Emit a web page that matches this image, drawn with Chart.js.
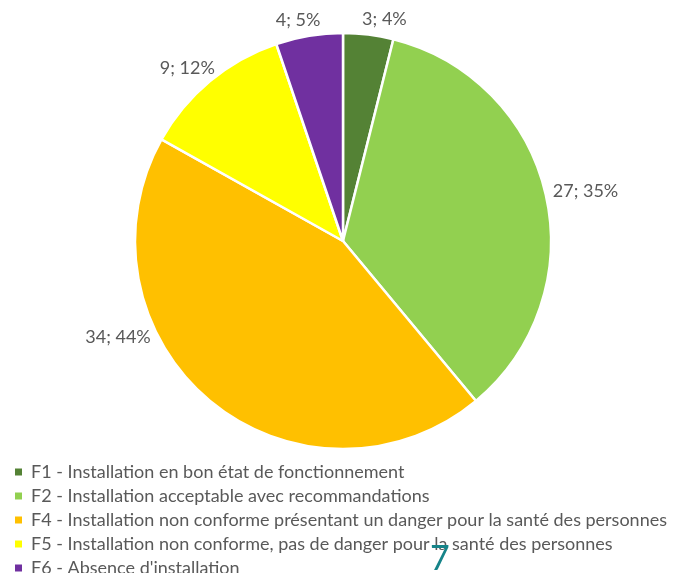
<!DOCTYPE html>
<html>
<head>
<meta charset="utf-8">
<script src="https://cdn.jsdelivr.net/npm/chart.js@4"></script>
<style>
    html, body { margin: 0; padding: 0; background: #fff; }
    #wrap { position: relative; width: 677px; height: 573px; overflow: hidden; }
    #pageNum { position: absolute; left: 430px; top: 536px; font: 34px Lato, sans-serif; color: #168489; }
</style>
</head>
<body>
<div id="wrap">
    <canvas id="chart" width="677" height="573"></canvas>
    <div id="pageNum">7</div>
</div>
<script>
// Données du graphique
const categories = [
    "F1 - Installation en bon état de fonctionnement",
    "F2 - Installation acceptable avec recommandations",
    "F4 - Installation non conforme présentant un danger pour la santé des personnes",
    "F5 - Installation non conforme, pas de danger pour la santé des personnes",
    "F6 - Absence d'installation"
];
const counts = [3, 27, 34, 9, 4];
const percents = [4, 35, 44, 12, 5];
const colors = ['#548235', '#92D050', '#FFC000', '#FFFF00', '#7030A0'];

// étiquettes "n; x%" à l'extérieur des parts
const outsideLabels = {
    id: 'outsideLabels',
    afterDatasetsDraw(chart, args, opts) {
        const ctx = chart.ctx;
        const arcs = chart.getDatasetMeta(0).data;
        ctx.save();
        ctx.font = opts.size + 'px ' + opts.family;
        ctx.fillStyle = opts.color;
        ctx.textAlign = 'center';
        ctx.textBaseline = 'middle';
        arcs.forEach((arc, i) => {
            const p = arc.getProps(['x', 'y', 'startAngle', 'endAngle', 'outerRadius'], true);
            const a = (p.startAngle + p.endAngle) / 2 + (opts.shift[i] || 0) * Math.PI / 180;
            const text = counts[i] + '; ' + percents[i] + '%';
            const w = ctx.measureText(text).width;
            const r = p.outerRadius + opts.offset;
            const px = p.x + Math.cos(a) * r;
            const py = p.y + Math.sin(a) * r;
            ctx.fillText(text, px + Math.cos(a) * w / 2, py + Math.sin(a) * opts.size / 2);
        });
        ctx.restore();
    }
};

const ctx = document.getElementById('chart');
new Chart(ctx, {
    type: 'pie',
    data: {
        labels: categories,
        datasets: [{
            data: counts,
            backgroundColor: colors,
            borderColor: '#ffffff',
            borderWidth: 2.5,
            radius: 208,
            clip: false
        }]
    },
    options: {
        responsive: false,
        animation: false,
        devicePixelRatio: 1,
        layout: { padding: { top: 25, left: 9, right: 0, bottom: -14 } },
        plugins: {
            tooltip: { enabled: false },
            legend: {
                position: 'bottom',
                align: 'start',
                labels: {
                    boxWidth: 7,
                    boxHeight: 7,
                    padding: 6,
                    color: '#595959',
                    font: { family: 'Lato', size: 18 },
                    generateLabels: chart => Chart.overrides.doughnut.plugins.legend.labels.generateLabels(chart)
                        .map(l => Object.assign(l, { lineWidth: 0 }))
                }
            },
            outsideLabels: {
                family: 'Lato',
                size: 18,
                color: '#595959',
                offset: 8,
                shift: [3, 0, 25, 0, -1.5]
            }
        }
    },
    plugins: [outsideLabels]
});
</script>
</body>
</html>
